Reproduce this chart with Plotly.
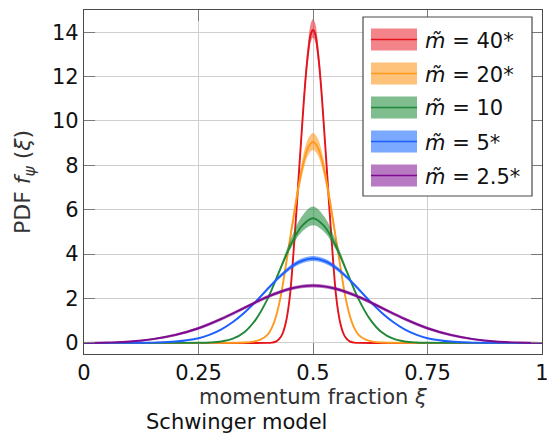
import plotly.graph_objects as go

# ---- data: PDF f_psi(xi) of the Schwinger model for several masses ----
labels = ["40*", "20*", "10", "5*", "2.5*"]

x_m40 = [0, 0.3, 0.4, 0.41, 0.42, 0.43, 0.435, 0.44, 0.445, 0.45, 0.455, 0.46, 0.465, 0.47,
         0.475, 0.48, 0.485, 0.49, 0.495, 0.5,
         0.505, 0.51, 0.515, 0.52, 0.525, 0.53, 0.535, 0.54, 0.545, 0.55, 0.555, 0.56, 0.565,
         0.57, 0.58, 0.59, 0.6, 0.7, 1]
y_m40 = [0, 0, 0, 0.015, 0.07, 0.28, 0.5, 0.85, 1.4, 2.2, 3.4, 4.8, 6.3, 7.9, 9.4, 10.9, 12.2,
         13.2, 13.9, 14.1,
         13.9, 13.2, 12.2, 10.9, 9.4, 7.9, 6.3, 4.8, 3.4, 2.2, 1.4, 0.85, 0.5, 0.28, 0.07, 0.015,
         0, 0, 0]
hi_m40 = [0, 0, 0, 0.016, 0.072, 0.29, 0.52, 0.88, 1.45, 2.28, 3.52, 4.97, 6.52, 8.18, 9.73,
          11.28, 12.63, 13.66, 14.39, 14.6,
          14.39, 13.66, 12.63, 11.28, 9.73, 8.18, 6.52, 4.97, 3.52, 2.28, 1.45, 0.88, 0.52, 0.29,
          0.072, 0.016, 0, 0, 0]
lo_m40 = [0, 0, 0, 0.015, 0.068, 0.27, 0.49, 0.83, 1.37, 2.15, 3.32, 4.68, 6.14, 7.7, 9.17,
          10.63, 11.9, 12.87, 13.55, 13.75,
          13.55, 12.87, 11.9, 10.63, 9.17, 7.7, 6.14, 4.68, 3.32, 2.15, 1.37, 0.83, 0.49, 0.27,
          0.068, 0.015, 0, 0, 0]

x_m20 = [0, 0.25, 0.3, 0.33, 0.35, 0.37, 0.385, 0.4, 0.41, 0.42, 0.43, 0.44, 0.45, 0.46, 0.47,
         0.48, 0.49, 0.5,
         0.51, 0.52, 0.53, 0.54, 0.55, 0.56, 0.57, 0.58, 0.59, 0.6, 0.615, 0.63, 0.65, 0.67, 0.7,
         0.75, 1]
y_m20 = [0, 0, 0.002, 0.006, 0.015, 0.06, 0.15, 0.35, 0.68, 1.25, 2.15, 3.4, 4.7, 6.0, 7.2,
         8.2, 8.83, 9.05,
         8.83, 8.2, 7.2, 6.0, 4.7, 3.4, 2.15, 1.25, 0.68, 0.35, 0.15, 0.06, 0.015, 0.006, 0.002,
         0, 0]
hi_m20 = [0, 0, 0.002, 0.006, 0.016, 0.063, 0.157, 0.366, 0.71, 1.31, 2.25, 3.55, 4.91, 6.27,
          7.52, 8.57, 9.23, 9.46,
          9.23, 8.57, 7.52, 6.27, 4.91, 3.55, 2.25, 1.31, 0.71, 0.366, 0.157, 0.063, 0.016,
          0.006, 0.002, 0, 0]
lo_m20 = [0, 0, 0.002, 0.006, 0.014, 0.058, 0.144, 0.336, 0.65, 1.2, 2.06, 3.26, 4.51, 5.76,
          6.91, 7.87, 8.48, 8.69,
          8.48, 7.87, 6.91, 5.76, 4.51, 3.26, 2.06, 1.2, 0.65, 0.336, 0.144, 0.058, 0.014,
          0.006, 0.002, 0, 0]

x_m10 = [0, 0.2, 0.25, 0.275, 0.3, 0.325, 0.35, 0.375, 0.4, 0.425, 0.45, 0.475, 0.5,
         0.525, 0.55, 0.575, 0.6, 0.625, 0.65, 0.675, 0.7, 0.725, 0.75, 0.8, 1]
y_m10 = [0, 0, 0.005, 0.02, 0.065, 0.19, 0.48, 1.05, 1.95, 3.15, 4.35, 5.25, 5.62,
         5.25, 4.35, 3.15, 1.95, 1.05, 0.48, 0.19, 0.065, 0.02, 0.005, 0, 0]
hi_m10 = [0, 0, 0.005, 0.02, 0.065, 0.19, 0.48, 1.054, 1.97, 3.24, 4.6, 5.68, 6.15,
          5.68, 4.6, 3.24, 1.97, 1.054, 0.48, 0.19, 0.065, 0.02, 0.005, 0, 0]
lo_m10 = [0, 0, 0.005, 0.02, 0.065, 0.19, 0.48, 1.048, 1.94, 3.09, 4.2, 4.99, 5.3,
          4.99, 4.2, 3.09, 1.94, 1.048, 0.48, 0.19, 0.065, 0.02, 0.005, 0, 0]

x_m5 = [0, 0.1, 0.125, 0.15, 0.2, 0.25, 0.275, 0.3, 0.325, 0.35, 0.375, 0.4, 0.425, 0.45,
        0.475, 0.5,
        0.525, 0.55, 0.575, 0.6, 0.625, 0.65, 0.675, 0.7, 0.725, 0.75, 0.8, 0.85, 0.875, 0.9, 1]
y_m5 = [0, 0.003, 0.006, 0.014, 0.06, 0.21, 0.37, 0.61, 0.94, 1.36, 1.86, 2.41, 2.94, 3.39,
        3.69, 3.8,
        3.69, 3.39, 2.94, 2.41, 1.86, 1.36, 0.94, 0.61, 0.37, 0.21, 0.06, 0.014, 0.006, 0.003, 0]
hi_m5 = [0, 0.003, 0.006, 0.014, 0.062, 0.216, 0.381, 0.628, 0.968, 1.401, 1.916, 2.482,
         3.028, 3.492, 3.801, 3.914,
         3.801, 3.492, 3.028, 2.482, 1.916, 1.401, 0.968, 0.628, 0.381, 0.216, 0.062, 0.014,
         0.006, 0.003, 0]
lo_m5 = [0, 0.003, 0.006, 0.014, 0.058, 0.204, 0.359, 0.592, 0.912, 1.319, 1.804, 2.338,
         2.852, 3.288, 3.579, 3.686,
         3.579, 3.288, 2.852, 2.338, 1.804, 1.319, 0.912, 0.592, 0.359, 0.204, 0.058, 0.014,
         0.006, 0.003, 0]

x_m25 = [0, 0.05, 0.1, 0.15, 0.2, 0.25, 0.3, 0.35, 0.4, 0.45, 0.5,
         0.55, 0.6, 0.65, 0.7, 0.75, 0.8, 0.85, 0.9, 0.95, 1]
y_m25 = [0, 0.02, 0.06, 0.17, 0.36, 0.66, 1.08, 1.58, 2.07, 2.44, 2.58,
         2.44, 2.07, 1.58, 1.08, 0.66, 0.36, 0.17, 0.06, 0.02, 0]
hi_m25 = [0, 0.03, 0.085, 0.215, 0.42, 0.73, 1.155, 1.655, 2.145, 2.515, 2.66,
          2.515, 2.145, 1.655, 1.155, 0.73, 0.42, 0.215, 0.085, 0.03, 0]
lo_m25 = [0, 0.01, 0.035, 0.125, 0.30, 0.59, 1.005, 1.505, 1.995, 2.365, 2.50,
          2.365, 1.995, 1.505, 1.005, 0.59, 0.30, 0.125, 0.035, 0.01, 0]

x_ticks = [0, 0.25, 0.5, 0.75, 1]
x_ticklabels = ["0", "0.25", "0.5", "0.75", "1"]
y_ticks = [0, 2, 4, 6, 8, 10, 12, 14]

# ---- styling ----
line_colors = ["#e3141c", "#ff9a1c", "#21883a", "#1f5fff", "#7d0a8f"]
band_colors = ["rgba(232,20,30,0.52)", "rgba(255,138,0,0.52)", "rgba(10,128,40,0.52)",
               "rgba(0,90,255,0.52)", "rgba(118,0,140,0.52)"]

series = [
    (x_m40, y_m40, lo_m40, hi_m40),
    (x_m20, y_m20, lo_m20, hi_m20),
    (x_m10, y_m10, lo_m10, hi_m10),
    (x_m5, y_m5, lo_m5, hi_m5),
    (x_m25, y_m25, lo_m25, hi_m25),
]

FONT = "DejaVu Sans"
W, H = 547, 438
ML, MR, MT, MB = 84, 5, 10, 84

fig = go.Figure()
for (xs, ys, lo, hi), lc, bc in zip(series, line_colors, band_colors):
    fig.add_trace(go.Scatter(x=xs, y=lo, mode="lines", line=dict(width=0, shape="spline"),
                             hoverinfo="skip", showlegend=False))
    fig.add_trace(go.Scatter(x=xs, y=hi, mode="lines", line=dict(width=0, shape="spline"),
                             fill="tonexty", fillcolor=bc, hoverinfo="skip", showlegend=False))
    fig.add_trace(go.Scatter(x=xs, y=ys, mode="lines", line=dict(color=lc, width=1.9, shape="spline"),
                             showlegend=False))

axis_common = dict(
    showline=True, linecolor="#4a4a4a", linewidth=1.2, mirror="ticks",
    ticks="inside", ticklen=11, tickcolor="#7a7a7a", tickwidth=1.2,
    showgrid=True, gridcolor="#cfcfcf", gridwidth=1.3, zeroline=False,
    tickfont=dict(family=FONT, size=21, color="#111111"),
    ticklabeloverflow="allow", automargin=False,
)
fig.update_xaxes(range=[0, 1], tickvals=x_ticks, ticktext=x_ticklabels, **axis_common)
fig.update_yaxes(range=[-0.5, 15], tickvals=y_ticks, **axis_common)

pw, ph = W - ML - MR, H - MT - MB


def px(xp):
    return (xp - ML) / pw


def py(yp):
    return (H - MB - yp) / ph


annotations = [
    dict(text="momentum fraction <i>ξ</i>", x=px(313), y=py(397), xref="paper", yref="paper",
         showarrow=False, font=dict(family=FONT, size=21, color="#333333"), xanchor="center", yanchor="middle"),
    dict(text="Schwinger model", x=px(236), y=py(422), xref="paper", yref="paper",
         showarrow=False, font=dict(family=FONT, size=21, color="#111111"), xanchor="center", yanchor="middle"),
    dict(text="PDF <i>f</i><sub><i>ψ</i></sub> (<i>ξ</i>)", x=px(24), y=py(182), xref="paper", yref="paper",
         showarrow=False, textangle=-90, font=dict(family=FONT, size=22, color="#333333"),
         xanchor="center", yanchor="middle"),
]

shapes = [dict(type="rect", xref="paper", yref="paper", x0=px(363), x1=px(532), y0=py(196), y1=py(17),
               line=dict(color="#4a4a4a", width=1.2), fillcolor="white", layer="above")]
for i, (lab, lc, bc) in enumerate(zip(labels, line_colors, band_colors)):
    cy = 39.5 + 34 * i
    shapes.append(dict(type="rect", xref="paper", yref="paper", x0=px(371), x1=px(417),
                       y0=py(cy + 11), y1=py(cy - 11), line=dict(width=0), fillcolor=bc, layer="above"))
    shapes.append(dict(type="line", xref="paper", yref="paper", x0=px(371), x1=px(417),
                       y0=py(cy), y1=py(cy), line=dict(color=lc, width=1.5), layer="above"))
    annotations.append(dict(text="<i>m̃</i> = " + lab, x=px(423), y=py(cy + 1), xref="paper", yref="paper",
                            showarrow=False, xanchor="left", yanchor="middle",
                            font=dict(family=FONT, size=21, color="#111111")))

fig.update_layout(
    width=W, height=H, margin=dict(l=ML, r=MR, t=MT, b=MB),
    plot_bgcolor="white", paper_bgcolor="white",
    shapes=shapes, annotations=annotations, showlegend=False,
)

fig.write_html("out.html")
